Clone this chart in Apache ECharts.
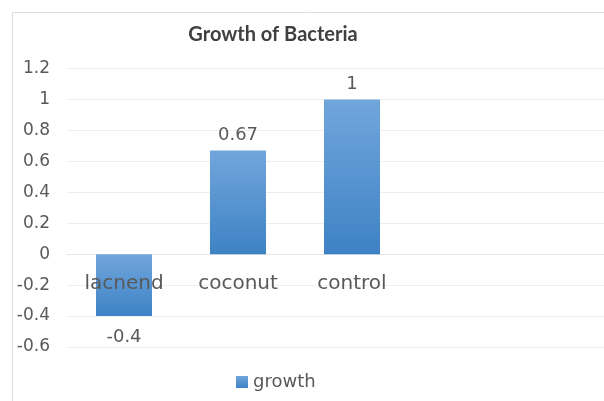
<!DOCTYPE html>
<html>
<head>
<meta charset="utf-8">
<script src="https://cdn.jsdelivr.net/npm/echarts@6/dist/echarts.min.js"></script>
<style>
html,body{margin:0;padding:0;background:#fff;}
#c{width:604px;height:401px;}
</style>
</head>
<body>
<div id="c"></div>
<script>
var categories = ['lacnend', 'coconut', 'control'];
var growth = [-0.4, 0.67, 1];
var yMin = -0.6, yMax = 1.2, yStep = 0.2;

var chart = echarts.init(document.getElementById('c'), null, {renderer: 'canvas'});
var txt = '#595959';
var barColor = new echarts.graphic.LinearGradient(0, 0, 0, 1, [
  {offset: 0, color: '#71a6dc'},
  {offset: 1, color: '#3e82c5'}
]);
chart.setOption({
  animation: false,
  backgroundColor: '#fff',
  graphic: [{
    type: 'rect', silent: true,
    shape: {x: 12.5, y: 12.5, width: 700, height: 500},
    style: {fill: 'none', stroke: '#dcdcdc', lineWidth: 1}
  }],
  title: {
    text: 'Growth of Bacteria',
    left: 273, top: 25, textAlign: 'center', padding: 0,
    textStyle: {fontFamily: 'Lato', fontWeight: 'bold', fontSize: 20, color: '#404040'}
  },
  legend: {
    data: ['growth'],
    left: 236, top: 373, padding: 0,
    icon: 'rect', itemWidth: 12, itemHeight: 12, itemGap: 4,
    textStyle: {fontFamily: 'DejaVu Sans', fontSize: 18, color: txt}
  },
  grid: {left: 67, width: 570, top: 68.5, bottom: 54, containLabel: false, outerBoundsMode: 'none'},
  xAxis: {
    type: 'category',
    data: categories,
    max: 4,
    axisLine: {show: true, onZero: true, lineStyle: {color: '#e6e6e6'}},
    axisTick: {show: false},
    axisLabel: {show: false},
    splitLine: {show: false}
  },
  yAxis: {
    type: 'value',
    min: yMin, max: yMax, interval: yStep,
    axisLine: {show: false},
    axisTick: {show: false},
    axisLabel: {
      fontFamily: 'DejaVu Sans', fontSize: 17, color: txt, margin: 17,
      formatter: function (v) { return String(Math.round(v * 10) / 10); }
    },
    splitLine: {lineStyle: {color: '#eeeeee', width: 1}}
  },
  series: [{
    name: 'growth',
    type: 'bar',
    barWidth: 56,
    itemStyle: {color: barColor},
    z: 1,
    data: growth.map(function (v) {
      return {value: v, label: {position: v < 0 ? 'bottom' : 'top', distance: v < 0 ? 12 : 6}};
    }),
    label: {
      show: true,
      fontFamily: 'DejaVu Sans', fontSize: 18, color: txt,
      formatter: function (p) { return String(p.value); }
    }
  }, {
    name: 'catLabels',
    type: 'scatter',
    symbol: 'circle',
    symbolSize: 1,
    silent: true,
    z: 5,
    itemStyle: {color: 'rgba(0,0,0,0)', opacity: 1},
    data: categories.map(function (c, i) { return [c, 0]; }),
    label: {
      show: true, position: 'bottom', distance: 19,
      fontFamily: 'DejaVu Sans', fontSize: 20, color: txt, opacity: 1,
      formatter: function (p) { return categories[p.dataIndex]; }
    },
    labelLayout: {hideOverlap: false}
  }]
});
</script>
</body>
</html>
